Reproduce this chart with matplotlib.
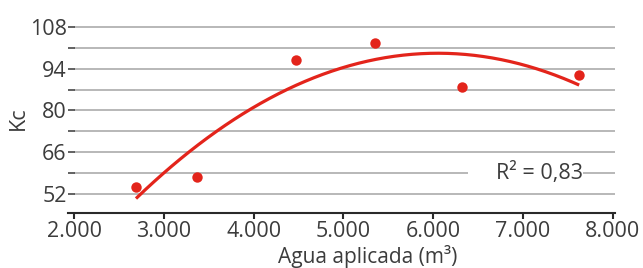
import numpy as np
import matplotlib
matplotlib.use("Agg")
import matplotlib.pyplot as plt

# datos
agua = [2690, 3370, 4470, 5350, 6320, 7625]   # m3
kc = [54.3, 57.7, 97.0, 102.7, 87.9, 91.9]
y_major = [52, 66, 80, 94, 108]
y_minor = [59, 73, 87, 101]
x_ticks = [2000, 3000, 4000, 5000, 6000, 7000, 8000]
x_labels = ["2.000", "3.000", "4.000", "5.000", "6.000", "7.000", "8.000"]
r2_text = "R² = 0,83"

RED = "#e3241b"
TXT = "#3c3c3c"
GRID = "#b8b8b8"

plt.rcParams["font.family"] = ["Open Sans", "DejaVu Sans"]

fig = plt.figure(figsize=(6.43, 2.68), dpi=100)
ax = fig.add_axes([68 / 643, 55 / 268, 547 / 643, 189 / 268])
ax.set_xlim(1933, 8024)
ax.set_ylim(45.6, 109)

# lineas horizontales (la de 59 se corta en la etiqueta R2)
for v in sorted(y_major + y_minor):
    if v == 59:
        ax.hlines(v, 2000, 6390, color=GRID, lw=1.4, zorder=1)
        ax.hlines(v, 7670, 8024, color=GRID, lw=1.4, zorder=1)
    else:
        ax.hlines(v, 2000, 8024, color=GRID, lw=1.4, zorder=1)

# ajuste cuadratico
coef = np.polyfit(agua, kc, 2)
xs = np.linspace(min(agua), max(agua), 200)
ax.plot(xs, np.polyval(coef, xs), color=RED, lw=2.3, zorder=3, solid_capstyle="butt")
ax.plot(agua, kc, "o", color=RED, ms=7.5, zorder=4, mec="none")

ax.text(6700, 59, r2_text, fontsize=15.5, color=TXT, va="center", ha="left")

for s in ["top", "right", "left"]:
    ax.spines[s].set_visible(False)
ax.spines["bottom"].set_color("#2a2a2a")
ax.spines["bottom"].set_linewidth(1.5)

ax.set_xticks(x_ticks)
ax.set_xticklabels(x_labels)
ax.set_yticks(y_major)
ax.set_yticks(y_minor, minor=True)
ax.tick_params(axis="x", direction="out", length=4, width=1.5, color="#2a2a2a",
               labelsize=15.5, labelcolor=TXT, pad=2)
ax.tick_params(axis="y", which="both", direction="in", length=5, width=1.3,
               color="#555555", labelsize=15.5, labelcolor=TXT, pad=1)

ax.set_ylabel("Kc", fontsize=15.5, color=TXT, va="center")
ax.yaxis.set_label_coords((18 - 68) / 547, 0.5)
ax.set_xlabel("Agua aplicada (m³)", fontsize=15, color=TXT, va="center")
ax.xaxis.set_label_coords((368 - 68) / 547, -43 / 189)

fig.savefig("out.png", dpi=100, facecolor="white")
